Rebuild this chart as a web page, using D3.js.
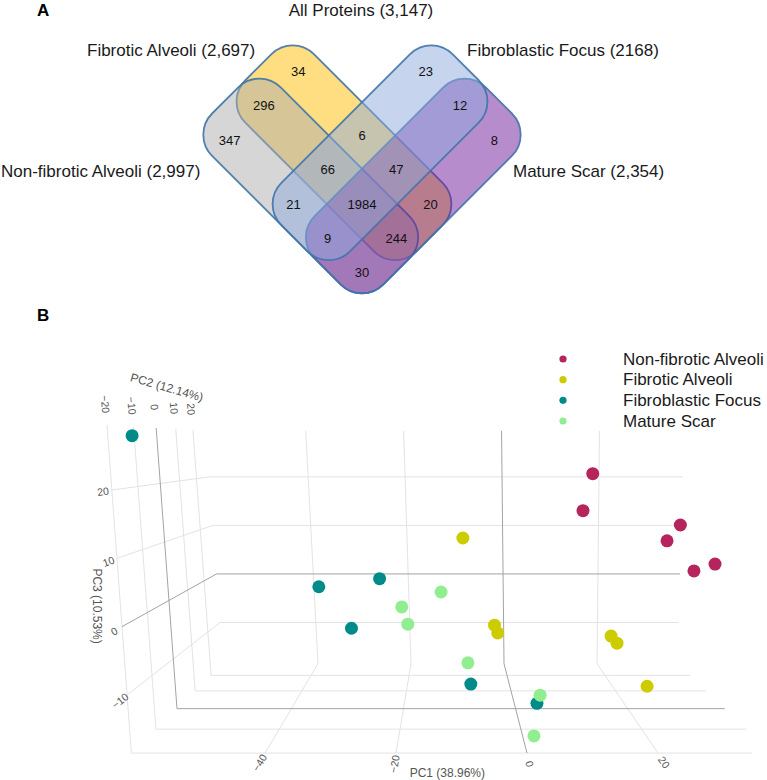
<!DOCTYPE html>
<html>
<head>
<meta charset="utf-8">
<script src="https://cdn.jsdelivr.net/npm/d3@7"></script>
<style>
  body { margin: 0; background: #fff; }
  svg { display: block; font-family: "Liberation Sans", Arial, sans-serif; }
</style>
</head>
<body>
<svg id="chart" width="767" height="780"></svg>
<script>
// ---------- panel A data ----------
const setNames = ["Non-fibrotic Alveoli", "Fibrotic Alveoli", "Fibroblastic Focus", "Mature Scar"];
const setTotals = ["2,997", "2,697", "2168", "2,354"];
const allProteins = "3,147";
// membership flags: [non-fibrotic, fibrotic, focus, scar]
const regionSets = ["1000", "0100", "0010", "0001", "1100", "0110", "0011", "1001",
                    "1110", "0111", "1010", "0101", "1111", "1011", "1101"];
const regionCounts = [347, 34, 23, 8, 296, 6, 12, 30, 66, 47, 21, 20, 1984, 9, 244];

// ---------- panel B data ----------
const groups = ["Non-fibrotic Alveoli", "Fibrotic Alveoli", "Fibroblastic Focus", "Mature Scar"];
const groupColors = ["#b5245c", "#cccc00", "#008b8b", "#90ee90"];
const pc1 = [
  [14.5, 13.3, 27.3, 26.5, 34.4, 32.2],
  [-8.6, -4.1, -3.3, 18.2, 18.0, 20.3],
  [-58.8, -35.8, -23.9, -27.9, -7.9, 2.7],
  [-12.9, -20.7, -18.6, -8.3, 3.0, 1.3]
];
const pc2 = [
  [5, 8, -5, 0, 10, -8],
  [12, -10, -5, 6, 0, -12],
  [-15, 10, 5, -6, 0, -10],
  [8, 15, -3, 2, -12, -18]
];
const pc3 = [
  [21.5, 14.7, 13.4, 10.2, 3.5, 7.4],
  [9.3, -2.0, -4.4, -7.5, -7.3, -11.1],
  [28.0, 0.6, 2.9, -3.4, -14.3, -14.4],
  [0.0, -4.1, -3.4, -11.2, -12.5, -16.7]
];
const pc1Ticks = [-40, -20, 0, 20];
const pc2Ticks = [-20, -10, 0, 10, 20];
const pc3Ticks = [-10, 0, 10, 20];
const pc1Range = [-60.4, 37.3];
const pc2Range = [-20, 28.5];
const pc3Range = [-18.5, 29.5];

const svg = d3.select("#chart");

svg.append("text").attr("x", 37).attr("y", 15.5)
  .attr("font-size", 17).attr("font-weight", "bold").text("A");
svg.append("text").attr("x", 37).attr("y", 321)
  .attr("font-size", 17).attr("font-weight", "bold").text("B");

// ---------- Venn ----------
const vc = [362, 204];
const E = 170, O = 72, I = 25;
// boxes in the 45deg rotated frame (u along "\", v along "/")
const boxes = [
  {u: [-E, O], v: [-I, O]},
  {u: [-E, O], v: [-O, I]},
  {u: [-O, I], v: [-E, O]},
  {u: [-I, O], v: [-E, O]}
];
const setColors = ["#adadad", "#fdbd01", "#8da9dd", "#6f199b"];
const drawOrder = [1, 0, 3, 2];

const gv = svg.append("g").attr("transform", `translate(${vc[0]},${vc[1]}) rotate(45)`);
gv.selectAll("rect")
  .data(drawOrder)
  .join("rect")
  .attr("x", i => boxes[i].u[0])
  .attr("y", i => boxes[i].v[0])
  .attr("width", i => boxes[i].u[1] - boxes[i].u[0])
  .attr("height", i => boxes[i].v[1] - boxes[i].v[0])
  .attr("rx", 30)
  .attr("fill", i => setColors[i])
  .attr("fill-opacity", 0.5)
  .attr("stroke", "#3f74aa")
  .attr("stroke-opacity", 0.9)
  .attr("stroke-width", 1.8);

// label position along one axis from membership of the two bands crossing it
const bandPos = (inA, inB) => {
  if (inA && inB) return 0;
  if (inA) return (I + O) / 2;
  if (inB) return -(I + O) / 2;
  return -O - 0.68 * (E - O);
};
const regions = regionSets.map((s, i) => {
  const f = s.split("").map(c => c === "1");
  const v = bandPos(f[0], f[1]);
  const u = bandPos(f[3], f[2]);
  return {
    n: regionCounts[i],
    x: vc[0] + (u - v) / Math.SQRT2,
    y: vc[1] + (u + v) / Math.SQRT2
  };
});
svg.append("g")
  .selectAll("text")
  .data(regions)
  .join("text")
  .attr("x", d => d.x)
  .attr("y", d => d.y)
  .attr("text-anchor", "middle")
  .attr("dominant-baseline", "central")
  .attr("font-size", 13)
  .attr("fill", "#111")
  .text(d => d.n);

const setLabels = [
  {t: `${setNames[0]} (${setTotals[0]})`, x: 1, y: 177, a: "start"},
  {t: `${setNames[1]} (${setTotals[1]})`, x: 87, y: 55.5, a: "start"},
  {t: `${setNames[2]} (${setTotals[2]})`, x: 467, y: 55.5, a: "start"},
  {t: `${setNames[3]} (${setTotals[3]})`, x: 513, y: 177, a: "start"},
  {t: `All Proteins (${allProteins})`, x: 361, y: 15.5, a: "middle"}
];
svg.append("g")
  .selectAll("text")
  .data(setLabels)
  .join("text")
  .attr("x", d => d.x)
  .attr("y", d => d.y)
  .attr("text-anchor", d => d.a)
  .attr("font-size", 17)
  .attr("fill", "#1a1a1a")
  .text(d => d.t);

// ---------- 3D PCA (perspective) ----------
const xFront = d3.scaleLinear().domain([-40, 20]).range([265, 658]);
const zFront = d3.scaleLinear().domain([-10, 20]).range([695, 490]);
const depth = d3.scaleLinear().domain(pc2Range).range([1, 1.4086]);
const vp = [xFront(-12.1), zFront(26.6)];

function project(X, Y, Z) {
  const s = 1 / depth(Y);
  const k = 0.0011 * (Z - pc3Range[0]);
  const fx = xFront(X) + (xFront(X) - xFront(10)) * k;
  return [vp[0] + s * (fx - vp[0]), vp[1] + s * (zFront(Z) - vp[1])];
}

const [x0, x1] = pc1Range, [y0, y1] = pc2Range, [z0, z1] = pc3Range;
const segs = [];
pc1Ticks.forEach(X => {
  segs.push({a: [X, y1, z0], b: [X, y1, z1], zero: X === 0});
  segs.push({a: [X, y0, z0], b: [X, y1, z0], zero: X === 0});
});
pc2Ticks.forEach(Y => {
  segs.push({a: [x0, Y, z0], b: [x0, Y, z1], zero: Y === 0});
  segs.push({a: [x0, Y, z0], b: [x1, Y, z0], zero: Y === 0});
});
pc3Ticks.forEach(Z => {
  segs.push({a: [x0, y1, Z], b: [x1, y1, Z], zero: Z === 0});
  segs.push({a: [x0, y0, Z], b: [x0, y1, Z], zero: Z === 0});
});

svg.append("clipPath").attr("id", "scene")
  .append("rect").attr("x", 0).attr("y", 370).attr("width", 752).attr("height", 410);

const gs = svg.append("g").attr("clip-path", "url(#scene)");
gs.selectAll("line")
  .data(segs.sort((p, q) => p.zero - q.zero))
  .join("line")
  .attr("x1", d => project(...d.a)[0])
  .attr("y1", d => project(...d.a)[1])
  .attr("x2", d => project(...d.b)[0])
  .attr("y2", d => project(...d.b)[1])
  .attr("stroke", d => d.zero ? "#a3a3a3" : "#e3e3e3")
  .attr("stroke-width", 1);

const fmt = v => String(v).replace("-", "\u2212");
const angle = (dx, dy) => {
  if (dx < 0) { dx = -dx; dy = -dy; }
  return Math.atan2(dy, dx) * 180 / Math.PI;
};
const tickLabels = [];
pc1Ticks.forEach(X => {
  const p = project(X, y0, z0);
  const dx = p[0] - vp[0], dy = p[1] - vp[1], L = Math.hypot(dx, dy);
  tickLabels.push({t: fmt(X), x: p[0] + dx / L * 11, y: p[1] + dy / L * 11, r: angle(dx, dy)});
});
pc2Ticks.forEach(Y => {
  const p = project(x0, Y, z1), q = project(x0, Y, z0);
  const dx = p[0] - q[0], dy = p[1] - q[1], L = Math.hypot(dx, dy);
  tickLabels.push({t: fmt(Y), x: p[0] + dx / L * 21, y: p[1] + dy / L * 21, r: angle(dx, dy)});
});
pc3Ticks.forEach(Z => {
  const p = project(x0, y0, Z), q = project(x0, y1, Z);
  const dx = p[0] - q[0], dy = p[1] - q[1], L = Math.hypot(dx, dy);
  tickLabels.push({t: fmt(Z), x: p[0] + dx / L * 9, y: p[1] + dy / L * 9, r: angle(dx, dy)});
});
svg.append("g")
  .selectAll("text")
  .data(tickLabels)
  .join("text")
  .attr("transform", d => `translate(${d.x},${d.y}) rotate(${d.r})`)
  .attr("text-anchor", "middle")
  .attr("dominant-baseline", "central")
  .attr("font-size", 10.5)
  .attr("fill", "#555")
  .text(d => d.t);

const t1 = project((x0 + x1) / 2, y0, z0);
const t2 = project(x0, (y0 + y1) / 2, z1);
const t3 = project(x0, y0, (z0 + z1) / 2);
const axisTitles = [
  {t: "PC1 (38.96%)", x: t1[0] - 4, y: t1[1] + 20, r: 0},
  {t: "PC2 (12.14%)", x: t2[0] + 2, y: t2[1] - 41, r: 16},
  {t: "PC3 (10.53%)", x: t3[0] - 22, y: t3[1] + 17, r: 90}
];
svg.append("g")
  .selectAll("text")
  .data(axisTitles)
  .join("text")
  .attr("transform", d => `translate(${d.x},${d.y}) rotate(${d.r})`)
  .attr("text-anchor", "middle")
  .attr("dominant-baseline", "central")
  .attr("font-size", 12)
  .attr("fill", "#555")
  .text(d => d.t);

// points, far ones first
const points = [];
groups.forEach((g, gi) => {
  pc1[gi].forEach((v, i) => {
    points.push({g: gi, X: v, Y: pc2[gi][i], Z: pc3[gi][i]});
  });
});
points.sort((a, b) => b.Y - a.Y);
svg.append("g")
  .selectAll("circle")
  .data(points)
  .join("circle")
  .attr("cx", d => project(d.X, d.Y, d.Z)[0])
  .attr("cy", d => project(d.X, d.Y, d.Z)[1])
  .attr("r", 6.5)
  .attr("fill", d => groupColors[d.g]);

// legend
const legendY = d3.scaleLinear().domain([0, 3]).range([359, 421]);
const lg = svg.append("g")
  .selectAll("g")
  .data(groups)
  .join("g")
  .attr("transform", (d, i) => `translate(563,${legendY(i)})`);
lg.append("circle").attr("r", 3.6).attr("fill", (d, i) => groupColors[i]);
lg.append("text")
  .attr("x", 60)
  .attr("dominant-baseline", "central")
  .attr("font-size", 17)
  .attr("fill", "#1a1a1a")
  .text(d => d);
</script>
</body>
</html>
